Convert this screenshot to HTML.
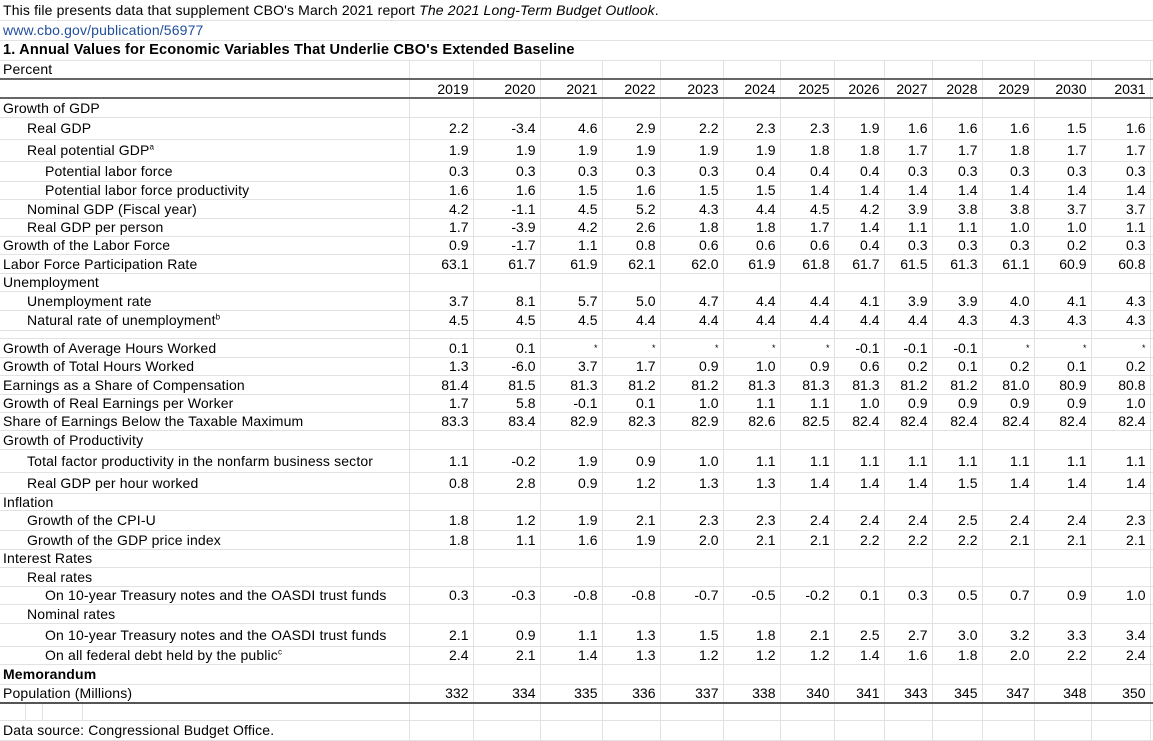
<!DOCTYPE html>
<html><head><meta charset="utf-8"><style>
html,body{margin:0;padding:0;background:#fff;}
body{width:1153px;height:740px;overflow:hidden;font-family:"Liberation Sans",Arial,sans-serif;font-size:14px;color:#000;}
table{border-collapse:collapse;table-layout:fixed;width:1153px;}
td{padding:0;white-space:nowrap;overflow:visible;border-bottom:1px solid #e2e2e2;border-right:1px solid #e2e2e2;line-height:14px;vertical-align:middle;}
td.n{text-align:right;padding-right:4px;}
td.l{padding-left:3px;border-right:1px solid #e2e2e2;letter-spacing:0.15px;}
td.l2{padding-left:27px;}
td.l3{padding-left:45px;}
tr.hd td{border-top:2px solid #666;border-bottom:2px solid #666;}
tr.pop td{border-bottom:2px solid #555;}
.st{font-size:9px;}
sup{font-size:8px;line-height:0;}
a{color:#1f4e9a;text-decoration:none;}
.h{font-size:14.6px;}
</style></head><body>
<table>
<colgroup><col style="width:25px"><col style="width:17px"><col style="width:40px"><col style="width:327px"><col style="width:64px"><col style="width:67px"><col style="width:62px"><col style="width:58px"><col style="width:63px"><col style="width:57px"><col style="width:54px"><col style="width:50px"><col style="width:48px"><col style="width:50px"><col style="width:52px"><col style="width:57px"><col style="width:59px"><col style="width:3px"></colgroup>
<tr style="height:20px"><td colspan="18" class="l">This file presents data that supplement CBO's March 2021 report <i>The 2021 Long-Term Budget Outlook</i>.</td></tr>
<tr style="height:20px"><td colspan="18" class="l"><a>www.cbo.gov/publication/56977</a></td></tr>
<tr style="height:20px"><td colspan="18" class="l h"><b>1. Annual Values for Economic Variables That Underlie CBO's Extended Baseline</b></td></tr>
<tr style="height:19px"><td colspan="4" class="l">Percent</td><td></td><td></td><td></td><td></td><td></td><td></td><td></td><td></td><td></td><td></td><td></td><td></td><td></td><td></td></tr>
<tr class="hd" style="height:19px"><td colspan="4"></td><td class="n">2019</td><td class="n">2020</td><td class="n">2021</td><td class="n">2022</td><td class="n">2023</td><td class="n">2024</td><td class="n">2025</td><td class="n">2026</td><td class="n">2027</td><td class="n">2028</td><td class="n">2029</td><td class="n">2030</td><td class="n">2031</td><td></td></tr>
<tr style="height:19px"><td colspan="4" class="l">Growth of GDP</td><td></td><td></td><td></td><td></td><td></td><td></td><td></td><td></td><td></td><td></td><td></td><td></td><td></td><td></td></tr>
<tr style="height:22px"><td colspan="4" class="l l2">Real GDP</td><td class="n">2.2</td><td class="n">-3.4</td><td class="n">4.6</td><td class="n">2.9</td><td class="n">2.2</td><td class="n">2.3</td><td class="n">2.3</td><td class="n">1.9</td><td class="n">1.6</td><td class="n">1.6</td><td class="n">1.6</td><td class="n">1.5</td><td class="n">1.6</td><td></td></tr>
<tr style="height:22px"><td colspan="4" class="l l2">Real potential GDP<sup>a</sup></td><td class="n">1.9</td><td class="n">1.9</td><td class="n">1.9</td><td class="n">1.9</td><td class="n">1.9</td><td class="n">1.9</td><td class="n">1.8</td><td class="n">1.8</td><td class="n">1.7</td><td class="n">1.7</td><td class="n">1.8</td><td class="n">1.7</td><td class="n">1.7</td><td></td></tr>
<tr style="height:20px"><td colspan="4" class="l l3">Potential labor force</td><td class="n">0.3</td><td class="n">0.3</td><td class="n">0.3</td><td class="n">0.3</td><td class="n">0.3</td><td class="n">0.4</td><td class="n">0.4</td><td class="n">0.4</td><td class="n">0.3</td><td class="n">0.3</td><td class="n">0.3</td><td class="n">0.3</td><td class="n">0.3</td><td></td></tr>
<tr style="height:18px"><td colspan="4" class="l l3">Potential labor force productivity</td><td class="n">1.6</td><td class="n">1.6</td><td class="n">1.5</td><td class="n">1.6</td><td class="n">1.5</td><td class="n">1.5</td><td class="n">1.4</td><td class="n">1.4</td><td class="n">1.4</td><td class="n">1.4</td><td class="n">1.4</td><td class="n">1.4</td><td class="n">1.4</td><td></td></tr>
<tr style="height:19px"><td colspan="4" class="l l2">Nominal GDP (Fiscal year)</td><td class="n">4.2</td><td class="n">-1.1</td><td class="n">4.5</td><td class="n">5.2</td><td class="n">4.3</td><td class="n">4.4</td><td class="n">4.5</td><td class="n">4.2</td><td class="n">3.9</td><td class="n">3.8</td><td class="n">3.8</td><td class="n">3.7</td><td class="n">3.7</td><td></td></tr>
<tr style="height:18px"><td colspan="4" class="l l2">Real GDP per person</td><td class="n">1.7</td><td class="n">-3.9</td><td class="n">4.2</td><td class="n">2.6</td><td class="n">1.8</td><td class="n">1.8</td><td class="n">1.7</td><td class="n">1.4</td><td class="n">1.1</td><td class="n">1.1</td><td class="n">1.0</td><td class="n">1.0</td><td class="n">1.1</td><td></td></tr>
<tr style="height:18px"><td colspan="4" class="l">Growth of the Labor Force</td><td class="n">0.9</td><td class="n">-1.7</td><td class="n">1.1</td><td class="n">0.8</td><td class="n">0.6</td><td class="n">0.6</td><td class="n">0.6</td><td class="n">0.4</td><td class="n">0.3</td><td class="n">0.3</td><td class="n">0.3</td><td class="n">0.2</td><td class="n">0.3</td><td></td></tr>
<tr style="height:19px"><td colspan="4" class="l">Labor Force Participation Rate</td><td class="n">63.1</td><td class="n">61.7</td><td class="n">61.9</td><td class="n">62.1</td><td class="n">62.0</td><td class="n">61.9</td><td class="n">61.8</td><td class="n">61.7</td><td class="n">61.5</td><td class="n">61.3</td><td class="n">61.1</td><td class="n">60.9</td><td class="n">60.8</td><td></td></tr>
<tr style="height:18px"><td colspan="4" class="l">Unemployment</td><td></td><td></td><td></td><td></td><td></td><td></td><td></td><td></td><td></td><td></td><td></td><td></td><td></td><td></td></tr>
<tr style="height:19px"><td colspan="4" class="l l2">Unemployment rate</td><td class="n">3.7</td><td class="n">8.1</td><td class="n">5.7</td><td class="n">5.0</td><td class="n">4.7</td><td class="n">4.4</td><td class="n">4.4</td><td class="n">4.1</td><td class="n">3.9</td><td class="n">3.9</td><td class="n">4.0</td><td class="n">4.1</td><td class="n">4.3</td><td></td></tr>
<tr style="height:20px"><td colspan="4" class="l l2">Natural rate of unemployment<sup>b</sup></td><td class="n">4.5</td><td class="n">4.5</td><td class="n">4.5</td><td class="n">4.4</td><td class="n">4.4</td><td class="n">4.4</td><td class="n">4.4</td><td class="n">4.4</td><td class="n">4.4</td><td class="n">4.3</td><td class="n">4.3</td><td class="n">4.3</td><td class="n">4.3</td><td></td></tr>
<tr style="height:8px"><td colspan="4"></td><td></td><td></td><td></td><td></td><td></td><td></td><td></td><td></td><td></td><td></td><td></td><td></td><td></td><td></td></tr>
<tr style="height:19px"><td colspan="4" class="l">Growth of Average Hours Worked</td><td class="n">0.1</td><td class="n">0.1</td><td class="n st">*</td><td class="n st">*</td><td class="n st">*</td><td class="n st">*</td><td class="n st">*</td><td class="n">-0.1</td><td class="n">-0.1</td><td class="n">-0.1</td><td class="n st">*</td><td class="n st">*</td><td class="n st">*</td><td></td></tr>
<tr style="height:18px"><td colspan="4" class="l">Growth of Total Hours Worked</td><td class="n">1.3</td><td class="n">-6.0</td><td class="n">3.7</td><td class="n">1.7</td><td class="n">0.9</td><td class="n">1.0</td><td class="n">0.9</td><td class="n">0.6</td><td class="n">0.2</td><td class="n">0.1</td><td class="n">0.2</td><td class="n">0.1</td><td class="n">0.2</td><td></td></tr>
<tr style="height:19px"><td colspan="4" class="l">Earnings as a Share of Compensation</td><td class="n">81.4</td><td class="n">81.5</td><td class="n">81.3</td><td class="n">81.2</td><td class="n">81.2</td><td class="n">81.3</td><td class="n">81.3</td><td class="n">81.3</td><td class="n">81.2</td><td class="n">81.2</td><td class="n">81.0</td><td class="n">80.9</td><td class="n">80.8</td><td></td></tr>
<tr style="height:18px"><td colspan="4" class="l">Growth of Real Earnings per Worker</td><td class="n">1.7</td><td class="n">5.8</td><td class="n">-0.1</td><td class="n">0.1</td><td class="n">1.0</td><td class="n">1.1</td><td class="n">1.1</td><td class="n">1.0</td><td class="n">0.9</td><td class="n">0.9</td><td class="n">0.9</td><td class="n">0.9</td><td class="n">1.0</td><td></td></tr>
<tr style="height:18px"><td colspan="4" class="l">Share of Earnings Below the Taxable Maximum</td><td class="n">83.3</td><td class="n">83.4</td><td class="n">82.9</td><td class="n">82.3</td><td class="n">82.9</td><td class="n">82.6</td><td class="n">82.5</td><td class="n">82.4</td><td class="n">82.4</td><td class="n">82.4</td><td class="n">82.4</td><td class="n">82.4</td><td class="n">82.4</td><td></td></tr>
<tr style="height:19px"><td colspan="4" class="l">Growth of Productivity</td><td></td><td></td><td></td><td></td><td></td><td></td><td></td><td></td><td></td><td></td><td></td><td></td><td></td><td></td></tr>
<tr style="height:23px"><td colspan="4" class="l l2">Total factor productivity in the nonfarm business sector</td><td class="n">1.1</td><td class="n">-0.2</td><td class="n">1.9</td><td class="n">0.9</td><td class="n">1.0</td><td class="n">1.1</td><td class="n">1.1</td><td class="n">1.1</td><td class="n">1.1</td><td class="n">1.1</td><td class="n">1.1</td><td class="n">1.1</td><td class="n">1.1</td><td></td></tr>
<tr style="height:21px"><td colspan="4" class="l l2">Real GDP per hour worked</td><td class="n">0.8</td><td class="n">2.8</td><td class="n">0.9</td><td class="n">1.2</td><td class="n">1.3</td><td class="n">1.3</td><td class="n">1.4</td><td class="n">1.4</td><td class="n">1.4</td><td class="n">1.5</td><td class="n">1.4</td><td class="n">1.4</td><td class="n">1.4</td><td></td></tr>
<tr style="height:17px"><td colspan="4" class="l">Inflation</td><td></td><td></td><td></td><td></td><td></td><td></td><td></td><td></td><td></td><td></td><td></td><td></td><td></td><td></td></tr>
<tr style="height:20px"><td colspan="4" class="l l2">Growth of the CPI-U</td><td class="n">1.8</td><td class="n">1.2</td><td class="n">1.9</td><td class="n">2.1</td><td class="n">2.3</td><td class="n">2.3</td><td class="n">2.4</td><td class="n">2.4</td><td class="n">2.4</td><td class="n">2.5</td><td class="n">2.4</td><td class="n">2.4</td><td class="n">2.3</td><td></td></tr>
<tr style="height:19px"><td colspan="4" class="l l2">Growth of the GDP price index</td><td class="n">1.8</td><td class="n">1.1</td><td class="n">1.6</td><td class="n">1.9</td><td class="n">2.0</td><td class="n">2.1</td><td class="n">2.1</td><td class="n">2.2</td><td class="n">2.2</td><td class="n">2.2</td><td class="n">2.1</td><td class="n">2.1</td><td class="n">2.1</td><td></td></tr>
<tr style="height:18px"><td colspan="4" class="l">Interest Rates</td><td></td><td></td><td></td><td></td><td></td><td></td><td></td><td></td><td></td><td></td><td></td><td></td><td></td><td></td></tr>
<tr style="height:19px"><td colspan="4" class="l l2">Real rates</td><td></td><td></td><td></td><td></td><td></td><td></td><td></td><td></td><td></td><td></td><td></td><td></td><td></td><td></td></tr>
<tr style="height:18px"><td colspan="4" class="l l3">On 10-year Treasury notes and the OASDI trust funds</td><td class="n">0.3</td><td class="n">-0.3</td><td class="n">-0.8</td><td class="n">-0.8</td><td class="n">-0.7</td><td class="n">-0.5</td><td class="n">-0.2</td><td class="n">0.1</td><td class="n">0.3</td><td class="n">0.5</td><td class="n">0.7</td><td class="n">0.9</td><td class="n">1.0</td><td></td></tr>
<tr style="height:19px"><td colspan="4" class="l l2">Nominal rates</td><td></td><td></td><td></td><td></td><td></td><td></td><td></td><td></td><td></td><td></td><td></td><td></td><td></td><td></td></tr>
<tr style="height:23px"><td colspan="4" class="l l3">On 10-year Treasury notes and the OASDI trust funds</td><td class="n">2.1</td><td class="n">0.9</td><td class="n">1.1</td><td class="n">1.3</td><td class="n">1.5</td><td class="n">1.8</td><td class="n">2.1</td><td class="n">2.5</td><td class="n">2.7</td><td class="n">3.0</td><td class="n">3.2</td><td class="n">3.3</td><td class="n">3.4</td><td></td></tr>
<tr style="height:18px"><td colspan="4" class="l l3">On all federal debt held by the public<sup>c</sup></td><td class="n">2.4</td><td class="n">2.1</td><td class="n">1.4</td><td class="n">1.3</td><td class="n">1.2</td><td class="n">1.2</td><td class="n">1.2</td><td class="n">1.4</td><td class="n">1.6</td><td class="n">1.8</td><td class="n">2.0</td><td class="n">2.2</td><td class="n">2.4</td><td></td></tr>
<tr style="height:20px"><td colspan="4" class="l"><b>Memorandum</b></td><td></td><td></td><td></td><td></td><td></td><td></td><td></td><td></td><td></td><td></td><td></td><td></td><td></td><td></td></tr>
<tr class="pop" style="height:19px"><td colspan="4" class="l">Population (Millions)</td><td class="n">332</td><td class="n">334</td><td class="n">335</td><td class="n">336</td><td class="n">337</td><td class="n">338</td><td class="n">340</td><td class="n">341</td><td class="n">343</td><td class="n">345</td><td class="n">347</td><td class="n">348</td><td class="n">350</td><td></td></tr>
<tr style="height:17px"><td></td><td></td><td></td><td></td><td></td><td></td><td></td><td></td><td></td><td></td><td></td><td></td><td></td><td></td><td></td><td></td><td></td><td></td></tr>
<tr style="height:20px"><td colspan="4" class="l">Data source: Congressional Budget Office.</td><td></td><td></td><td></td><td></td><td></td><td></td><td></td><td></td><td></td><td></td><td></td><td></td><td></td><td></td></tr>
</table>
</body></html>
